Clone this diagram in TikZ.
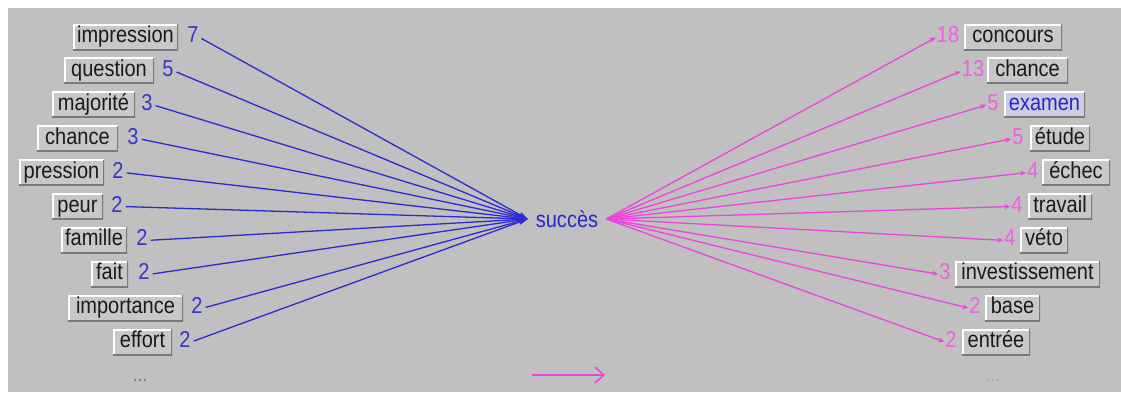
\documentclass[tikz,border=0pt]{standalone}
\usepackage{fontspec}
\setmainfont{Liberation Sans}[FakeStretch=0.87]
\usetikzlibrary{arrows.meta}
\definecolor{bg}{HTML}{C0C0C0}
\definecolor{btnfill}{HTML}{C8C8C8}
\definecolor{btntext}{HTML}{1A1A1A}
\definecolor{shadow}{HTML}{7A7A7A}
\definecolor{bl}{HTML}{2B2BD0}
\definecolor{blnum}{HTML}{3535D0}
\definecolor{pk}{HTML}{EE44DD}
\definecolor{pknum}{HTML}{F060E0}
\definecolor{exfill}{HTML}{CCCCE6}
\definecolor{extext}{HTML}{2828C8}
\tikzset{
  txt/.style={font=\fontsize{23}{24}\selectfont},
  btn/.style={txt, fill=btnfill, text=btntext, inner xsep=0pt, inner ysep=2.5pt,
    text height=16pt, text depth=5pt,
    path picture={
      \draw[white,line width=3pt] (path picture bounding box.south west) -- (path picture bounding box.north west) -- (path picture bounding box.north east);
      \draw[shadow,line width=3pt] (path picture bounding box.north east) -- (path picture bounding box.south east) -- (path picture bounding box.south west);
    }},
  lnum/.style={txt, text=blnum, inner sep=0pt, text height=16pt, text depth=5pt},
  rnum/.style={txt, text=pknum, inner sep=0pt, text height=16pt, text depth=5pt},
  bline/.style={bl, line width=1.3pt, shorten <=3pt, -{Stealth[length=9pt,width=6pt]}},
  pline/.style={pk, line width=1.3pt, shorten >=1pt, -{Stealth[length=6pt,width=5pt]}},
  dots/.style={font=\fontsize{20}{20}\selectfont, inner sep=0pt},
}
\begin{document}
\begin{tikzpicture}[x=1pt,y=-1pt]
\useasboundingbox (0,0) rectangle (1121,392);
\fill[white] (0,0) rectangle (1121,392);
\fill[bg] (8,8) rectangle (1121,392);

% centre word
\node[txt, text=extext, inner xsep=8pt, inner ysep=0pt] (succ) at (567,219) {succès};

% left side
\node[btn, minimum width=105pt] (l1) at (125.5,37.0) {impression};
\node[btn, minimum width=90pt]  (l2) at (109.0,70.9) {question};
\node[btn, minimum width=83pt]  (l3) at (93.5,104.8) {majorité};
\node[btn, minimum width=81pt]  (l4) at (77.5,138.7) {chance};
\node[btn, minimum width=85pt]  (l5) at (61.5,172.6) {pression};
\node[btn, minimum width=51pt]  (l6) at (77.5,206.5) {peur};
\node[btn, minimum width=66pt]  (l7) at (94.0,240.4) {famille};
\node[btn, minimum width=37pt]  (l8) at (109.5,274.3) {fait};
\node[btn, minimum width=115pt] (l9) at (125.5,308.2) {importance};
\node[btn, minimum width=59pt]  (l10) at (142.5,342.1) {effort};

\node[lnum] (a1) at (193,37.0) {7};
\node[lnum] (a2) at (168,70.9) {5};
\node[lnum] (a3) at (147,104.8) {3};
\node[lnum] (a4) at (133,138.7) {3};
\node[lnum] (a5) at (118,172.6) {2};
\node[lnum] (a6) at (117,206.5) {2};
\node[lnum] (a7) at (142,240.4) {2};
\node[lnum] (a8) at (144,274.3) {2};
\node[lnum] (a9) at (197,308.2) {2};
\node[lnum] (a10) at (185,342.1) {2};

\node[dots, text=blnum!60!bg] (ldots) at (140,380) {...};

% right side
\node[btn, minimum width=98pt]  (r1) at (1013.0,37.0) {concours};
\node[btn, minimum width=81pt]  (r2) at (1027.5,70.9) {chance};
\node[btn, minimum width=81pt, fill=exfill, text=extext] (r3) at (1044.5,104.8) {examen};
\node[btn, minimum width=60pt]  (r4) at (1060.0,138.7) {étude};
\node[btn, minimum width=68pt]  (r5) at (1076.0,172.6) {échec};
\node[btn, minimum width=64pt]  (r6) at (1060.0,206.5) {travail};
\node[btn, minimum width=48pt]  (r7) at (1044.0,240.4) {véto};
\node[btn, minimum width=145pt] (r8) at (1027.5,274.3) {investissement};
\node[btn, minimum width=55pt]  (r9) at (1012.5,308.2) {base};
\node[btn, minimum width=68pt]  (r10) at (996.0,342.1) {entrée};

\node[rnum] (b1) at (948,37.0) {18};
\node[rnum] (b2) at (973,70.9) {13};
\node[rnum] (b3) at (993,104.8) {5};
\node[rnum] (b4) at (1018,138.7) {5};
\node[rnum] (b5) at (1033,172.6) {4};
\node[rnum] (b6) at (1017,206.5) {4};
\node[rnum] (b7) at (1010,240.4) {4};
\node[rnum] (b8) at (945,274.3) {3};
\node[rnum] (b9) at (975,308.2) {2};
\node[rnum] (b10) at (951,342.1) {2};

\node[dots, text=pknum!60!bg] (rdots) at (993,380) {...};

% connectors
\foreach \i in {1,...,10} {
  \draw[bline] (a\i.east) -- (succ.west);
  \draw[pline] (succ.east) -- (b\i.west);
}

% bottom direction arrow
\coordinate (arrA) at (532,375);
\coordinate (arrB) at (605,375);
\draw[pk, line width=2.5pt, -{Straight Barb[length=9pt,width=16pt,line width=1.5pt]}] (arrA) -- (arrB);
\end{tikzpicture}
\end{document}
